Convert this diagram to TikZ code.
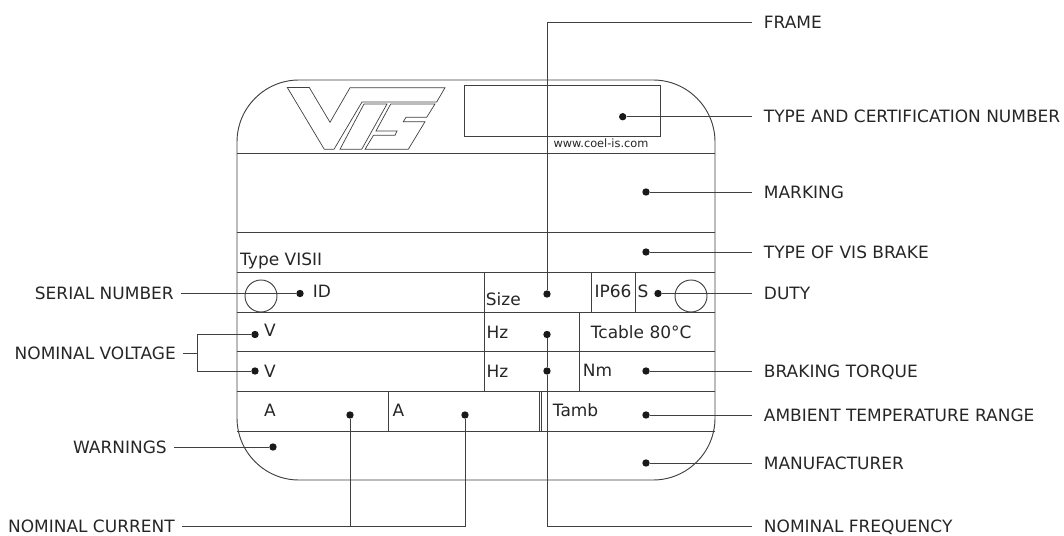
\documentclass[tikz,border=0pt]{standalone}
\usepackage{fontspec}
\setmainfont{DejaVu Sans}
\usetikzlibrary{calc}

\tikzset{
	platetext/.style = {anchor = base west, inner sep = 0pt, font = \fontsize{14.5}{16}\selectfont, text = black!85},
	calloutright/.style = {anchor = west, inner xsep = 10pt, inner ysep = 0pt, text height = 10.5pt, text depth = 0pt, font = \fontsize{14.5}{16}\selectfont, text = black!85},
	calloutleft/.style = {anchor = east, inner xsep = 6pt, inner ysep = 0pt, text height = 10.5pt, text depth = 0pt, font = \fontsize{14.5}{16}\selectfont, text = black!85},
	dot/.style = {circle, fill = black!90, inner sep = 0pt, minimum size = 6.3pt},
	wire/.style = {draw = black!75, line width = 0.8pt},
	plateline/.style = {draw = black!75, line width = 0.8pt}
}

\begin{document}
\begin{tikzpicture}[x = 0.03cm, y = -0.03cm]
		\useasboundingbox (0,0) rectangle (1064,536);
		\def\plateoutline{(300,80) -- (653,80) arc [start angle = 90, end angle = 0, radius = 62*0.03cm] -- (715,418) arc [start angle = 0, end angle = -90, radius = 62*0.03cm] -- (299,480) arc [start angle = 270, end angle = 180, radius = 62*0.03cm] -- (237,142) arc [start angle = 180, end angle = 90, radius = 62*0.03cm] -- cycle};
		
		\begin{scope}[plateline]
			\draw \plateoutline;
			\draw (464,85) rectangle (660,136.5);
			\draw (237,153) -- (715,153);
			\draw (237,232) -- (715,232);
			\draw (237,272) -- (715,272);
			\draw (237,312) -- (715,312);
			\draw (237,351.5) -- (715,351.5);
			\draw (237,391.5) -- (715,391.5);
			\draw (237,431.5) -- (715,431.5);
			\draw (484,272) -- (484,391.5);
			\draw (591.5,272) -- (591.5,312);
			\draw (635,272) -- (635,312);
			\draw (579.5,312) -- (579.5,391.5);
			\draw (388,391.5) -- (388,431.5);
			\draw (539.5,391.5) -- (539.5,431.5);
			\draw (541,391.5) -- (541,431.5);
			\draw (261,296) circle [radius = 16*0.03cm];
			\draw (691,296) circle [radius = 16*0.03cm];
		\end{scope}
		
		% logo
		\begin{scope}[plateline, line width = 0.6pt]
			\draw (287.3,87.5) -- (309.3,87.5) -- (330,122.3) -- (350,87.7) -- (445,87.7) -- (436.7,102) -- (362,102) -- (334,149.3) -- (324.3,149.3) -- cycle;
			\draw (364,104) -- (387,104) -- (361.7,149.3) -- (340,149.3) -- cycle;
			\draw (390.7,104) -- (435,104) -- (426.7,117.3) -- (406,117.3) -- (403.3,121.7) -- (425,121.7) -- (408.3,149.3) -- (365,149.3) -- (373.5,135.3) -- (395,135.3) -- (397,131) -- (376,131) -- cycle;
		\end{scope}
		
		\begin{scope}
			\node [platetext] (typetext) at (240,265) {Type VISII};
			\node [platetext] (idtext) at (312.7,297.3) {ID};
			\node [platetext] (sizetext) at (485.7,305.7) {Size};
			\node [platetext] (iptext) at (594.3,297.7) {IP66};
			\node [platetext] (stext) at (637.3,297.7) {S};
			\node [platetext] (vonetext) at (264,336.7) {V};
			\node [platetext] (vtwotext) at (264,377.7) {V};
			\node [platetext] (hzonetext) at (486.3,338.3) {Hz};
			\node [platetext] (hztwotext) at (486.3,377.7) {Hz};
			\node [platetext] (cabletext) at (590.7,338.3) {Tcable 80°C};
			\node [platetext] (nmtext) at (582.7,376.7) {Nm};
			\node [platetext] (aonetext) at (264,416.7) {A};
			\node [platetext] (atwotext) at (392.3,416.7) {A};
			\node [platetext] (tambtext) at (552.7,416.7) {Tamb};
			\node [platetext, font = \fontsize{9.7}{11}\selectfont] (webtext) at (553.3,147.7) {www.coel-is.com};
		\end{scope}
		
		\begin{scope}
			\node [dot] (dotcert) at (622.7,116.7) {};
			\node [dot] (dotmarking) at (646,192) {};
			\node [dot] (dotbrake) at (646,252) {};
			\node [dot] (dotframe) at (547,294) {};
			\node [dot] (dotduty) at (658,293.5) {};
			\node [dot] (dotserial) at (300,293.5) {};
			\node [dot] (dotvone) at (255,334.5) {};
			\node [dot] (dotvtwo) at (255,371) {};
			\node [dot] (dothzone) at (547,334.5) {};
			\node [dot] (dothztwo) at (547,371) {};
			\node [dot] (dottorque) at (646,371) {};
			\node [dot] (dotaone) at (350,415) {};
			\node [dot] (dotatwo) at (465,415) {};
			\node [dot] (dotambient) at (646,415) {};
			\node [dot] (dotwarn) at (273,447) {};
			\node [dot] (dotmaker) at (646,463) {};
		\end{scope}
		
		\begin{scope}
			\node [calloutright] (frame) at (752,22) {FRAME};
			\node [calloutright] (cert) at (752,116.7) {TYPE AND CERTIFICATION NUMBER};
			\node [calloutright] (marking) at (752,192) {MARKING};
			\node [calloutright] (brake) at (752,252) {TYPE OF VIS BRAKE};
			\node [calloutright] (duty) at (752,293.5) {DUTY};
			\node [calloutright] (torque) at (752,371) {BRAKING TORQUE};
			\node [calloutright] (ambient) at (752,415) {AMBIENT TEMPERATURE RANGE};
			\node [calloutright] (maker) at (752,463) {MANUFACTURER};
			\node [calloutright] (frequency) at (752,526) {NOMINAL FREQUENCY};
			\node [calloutleft] (serial) at (181,293.5) {SERIAL NUMBER};
			\node [calloutleft] (voltage) at (183,353) {NOMINAL VOLTAGE};
			\node [calloutleft] (warnings) at (174,447) {WARNINGS};
			\node [calloutleft] (current) at (182,526) {NOMINAL CURRENT};
			\coordinate (voltagefork) at (197,353);
		\end{scope}
		
		\begin{scope}[wire]
			\draw (dotframe) |- (frame.west);
			\draw (dotcert) -- (cert.west);
			\draw (dotmarking) -- (marking.west);
			\draw (dotbrake) -- (brake.west);
			\draw (dotduty) -- (duty.west);
			\draw (dottorque) -- (torque.west);
			\draw (dotambient) -- (ambient.west);
			\draw (dotmaker) -- (maker.west);
			\draw (dothzone) -- (dothztwo);
			\draw (dothztwo) |- (frequency.west);
			\draw (serial.east) -- (dotserial);
			\draw (warnings.east) -- (dotwarn);
			\draw (voltage.east) -- (voltagefork);
			\draw (dotvone) -| (voltagefork);
			\draw (dotvtwo) -| (voltagefork);
			\draw (current.east) -| (dotaone);
			\draw (current.east) -| (dotatwo);
		\end{scope}
	\end{tikzpicture}
\end{document}
